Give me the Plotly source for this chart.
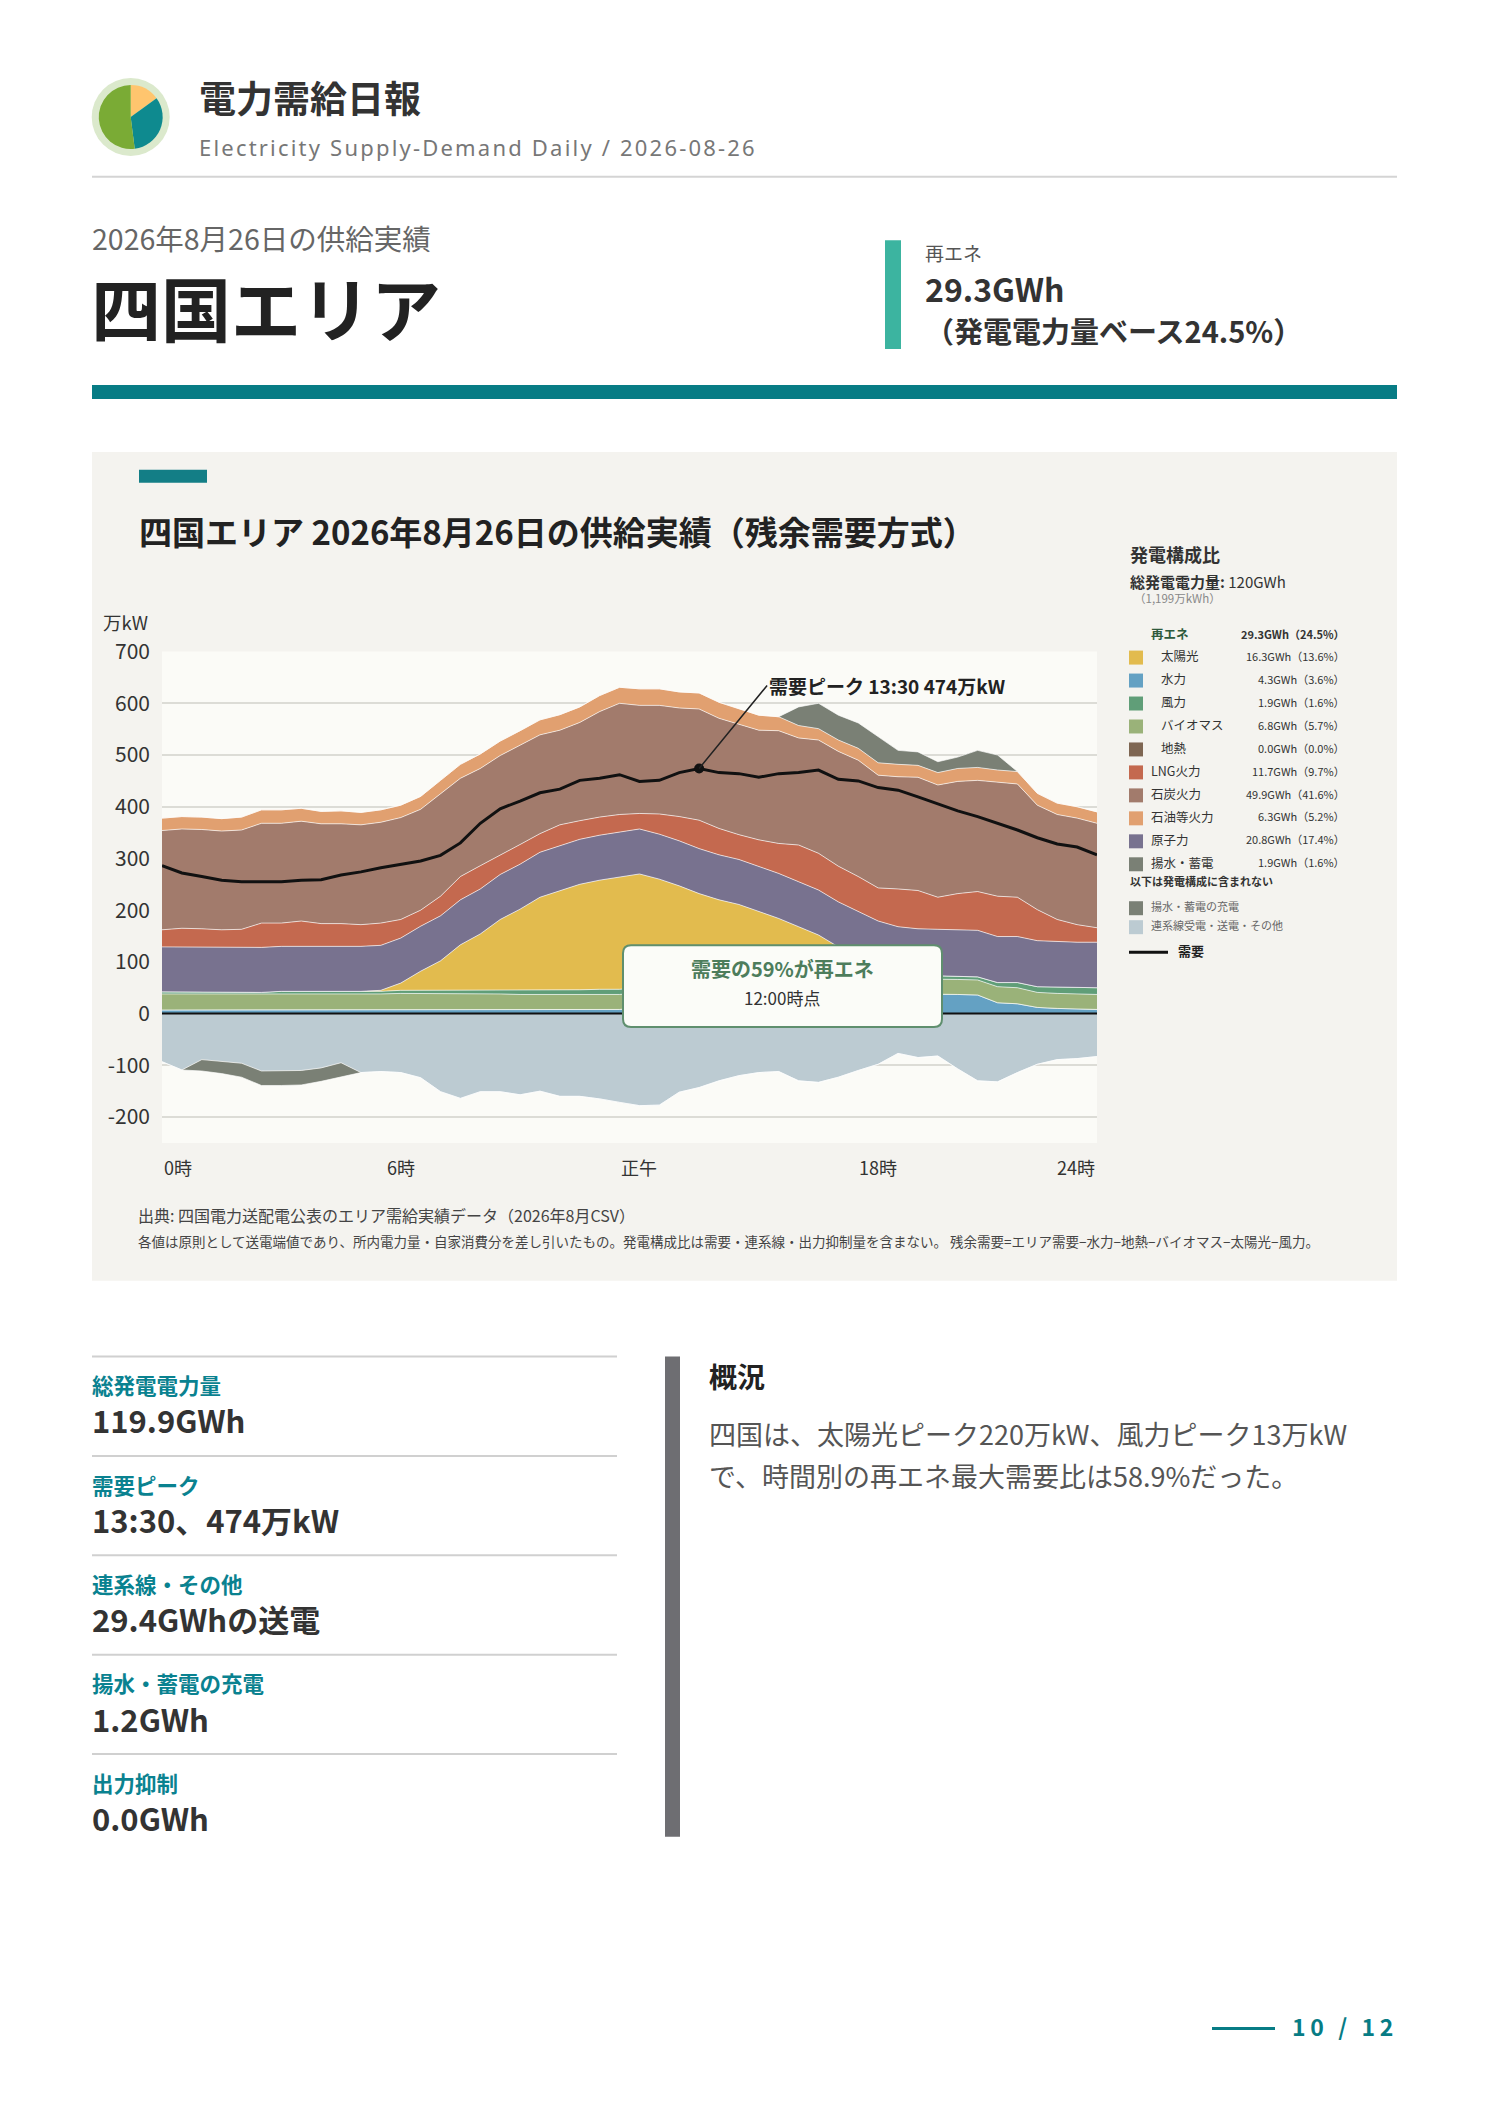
import plotly.graph_objects as go

# --- data (万kW, 30-minute slots) ---------------------------------------
slots = [f"{h:02d}:{m:02d}" for h in range(24) for m in (0, 30)]

hydro = [7, 7, 7, 7, 7, 7, 7, 7, 7, 7, 7, 7,
         8, 8, 8, 8, 8, 8, 8, 8, 8, 8, 8, 8,
         12, 14, 16, 18, 20, 22, 24, 26, 28, 30, 32, 34, 36, 37, 38, 38,
         37, 36, 21, 19, 12, 10, 9, 8]
geothermal = [0] * 48  # 0.0GWh
biomass = [31, 31, 31, 30, 30, 30, 31, 31, 31, 31, 31, 31,
           31, 31, 30, 30, 30, 30, 29, 29, 29, 29, 29, 29,
           28, 28, 28, 28, 28, 28, 28, 28, 28, 28, 28, 29, 29, 29, 29, 29,
           29, 29, 31, 31, 29, 29, 29, 29]
wind = [4, 4, 4, 4, 4, 4, 5, 5, 5, 5, 5, 5,
        6, 6, 7, 7, 7, 8, 8, 8, 9, 9, 10, 10,
        10, 10, 9, 9, 9, 8, 8, 8, 7, 7, 7, 7, 6, 6, 6, 6,
        6, 6, 8, 10, 11, 12, 12, 13]
solar = [0, 0, 0, 0, 0, 0, 0, 0, 0, 0, 0, 2,
         14, 37, 57, 88, 109, 136, 157, 180, 192, 204, 211, 217,
         220, 208, 194, 177, 163, 153, 138, 122, 105, 87, 62, 40, 20, 7, 1, 0,
         0, 0, 0, 0, 0, 0, 0, 0]
nuclear = [87, 87, 87, 87, 87, 87, 87, 87, 87, 87, 87, 87,
           87, 87, 87, 87, 87, 87, 87, 87, 87, 87, 87, 87,
           87, 87, 87, 87, 87, 87, 87, 87, 87, 87, 87, 87, 88, 89, 90, 90,
           90, 90, 89, 89, 89, 88, 88, 88]
lng = [33, 36, 35, 34, 35, 47, 45, 49, 44, 44, 42, 43,
       36, 31, 38, 45, 45, 37, 38, 36, 40, 36, 35, 34,
       30, 39, 47, 55, 51, 48, 51, 58, 71, 71, 69, 68, 64, 73, 74, 62,
       70, 75, 78, 76, 60, 43, 34, 28]
coal = [192, 192, 192, 191, 192, 193, 193, 193, 193, 193, 193, 195,
        197, 195, 198, 190, 188, 193, 192, 191, 183, 190, 204, 215,
        209, 210, 210, 215, 213, 214, 212, 218, 207, 219, 222, 225, 218, 217, 219, 217,
        217, 215, 220, 219, 202, 203, 206, 202]
oil = [24, 24, 24, 24, 25, 26, 26, 25, 24, 25, 24, 24,
       24, 25, 26, 27, 28, 28, 28, 29, 30, 30, 31, 31,
       32, 32, 31, 31, 31, 30, 29, 27, 24, 22, 22, 23, 24, 24, 23, 24,
       25, 25, 24, 24, 23, 22, 22, 22]
pumped = [0, 0, 0, 0, 0, 0, 0, 0, 0, 0, 0, 0,
          0, 0, 0, 0, 0, 0, 0, 0, 0, 0, 0, 0,
          0, 0, 0, 0, 0, 0, 0, 0, 36, 49, 48, 49, 50, 27, 26, 21,
          22, 33, 29, 0, 0, 0, 0, 0]
interconnect = [-93, -109, -89, -92, -96, -111, -111, -110, -105, -95, -114, -112,
                -114, -124, -151, -164, -151, -151, -157, -150, -160, -160, -165, -172,
                -178, -177, -152, -143, -130, -120, -114, -112, -130, -133, -123, -110, -98, -77, -85, -82,
                -107, -130, -132, -114, -98, -89, -87, -83]
charging = [0, 0, -22, -24, -27, -28, -28, -28, -26, -27, 0, 0,
            0, 0, 0, 0, 0, 0, 0, 0, 0, 0, 0, 0,
            0, 0, 0, 0, 0, 0, 0, 0, 0, 0, 0, 0, 0, 0, 0, 0,
            0, 0, 0, 0, 0, 0, 0, 0]
demand = [286, 272, 265, 258, 255, 255, 255, 258, 259, 268, 274, 282,
          289, 295, 306, 330, 368, 396, 411, 427, 434, 451, 455, 462,
          449, 451, 466, 474, 466, 464, 457, 464, 466, 471, 453, 450, 437, 432, 419, 405,
          392, 381, 368, 355, 340, 328, 322, 307]

x_tick_slots = ["00:00", "06:00", "12:00", "18:00", "23:30"]
x_tick_text = ["0時", "6時", "正午", "18時", "24時"]
y_ticks = [-200, -100, 0, 100, 200, 300, 400, 500, 600, 700]

legend_names = ["太陽光", "水力", "風力", "バイオマス", "地熱",
                "LNG火力", "石炭火力", "石油等火力", "原子力", "揚水・蓄電"]
legend_values = ["16.3GWh（13.6%）", "4.3GWh（3.6%）", "1.9GWh（1.6%）", "6.8GWh（5.7%）",
                 "0.0GWh（0.0%）", "11.7GWh（9.7%）", "49.9GWh（41.6%）", "6.3GWh（5.2%）",
                 "20.8GWh（17.4%）", "1.9GWh（1.6%）"]
kpi_labels = ["総発電電力量", "需要ピーク", "連系線・その他", "揚水・蓄電の充電", "出力抑制"]
kpi_values = ["119.9GWh", "13:30、474万kW", "29.4GWhの送電", "1.2GWh", "0.0GWh"]
logo_shares = [15, 33, 52]

C = {
    "太陽光": "#e2bb4e", "水力": "#64a1c3", "風力": "#609e78", "バイオマス": "#9ab279",
    "地熱": "#7e6652", "LNG火力": "#c4694f", "石炭火力": "#a27b6c", "石油等火力": "#e1a070",
    "原子力": "#78728f", "揚水・蓄電": "#7a8075", "充電": "#7a8075", "連系線": "#bccbd2",
}
FONT = "Noto Sans CJK JP"
TEAL = "#077c85"

# page geometry: figure sits inside the 8px body margin; vertical placement
# was calibrated against the rendered page
OFF_X, W, H = 8, 1472, 2089
A_Y, B_Y = 22.5, 0.9933


def fx(x):
    return (x - OFF_X) / W


def fy(y):
    return 1 - ((y - A_Y) / B_Y) / H


def spaced(s, gap="\u200a"):
    return gap.join(s)


fig = go.Figure()

# stacked supply
pos = [("水力", hydro), ("地熱", geothermal), ("バイオマス", biomass), ("風力", wind),
       ("太陽光", solar), ("原子力", nuclear), ("LNG火力", lng), ("石炭火力", coal),
       ("石油等火力", oil), ("揚水・蓄電", pumped)]
for name, vals in pos:
    fig.add_trace(go.Scatter(x=slots, y=vals, name=name, stackgroup="pos", mode="lines",
                             line=dict(width=1, color="rgba(255,255,255,0.65)"),
                             fillcolor=C[name], hoverinfo="skip"))
for name, vals in [("連系線", interconnect), ("充電", charging)]:
    fig.add_trace(go.Scatter(x=slots, y=vals, name=name, stackgroup="neg", mode="lines",
                             line=dict(width=1, color="rgba(255,255,255,0.65)"),
                             fillcolor=C[name], hoverinfo="skip"))

fig.add_trace(go.Scatter(x=slots, y=demand, mode="lines", name="需要",
                         line=dict(color="#111", width=3), hoverinfo="skip"))
peak_i = demand.index(max(demand))
fig.add_trace(go.Scatter(x=[slots[peak_i]], y=[demand[peak_i]], mode="markers",
                         marker=dict(color="#111", size=10), hoverinfo="skip"))

fig.update_layout(
    width=W, height=H, margin=dict(l=0, r=0, t=0, b=0),
    paper_bgcolor="white", plot_bgcolor="rgba(0,0,0,0)", showlegend=False,
    font=dict(family=FONT, color="#333"),
    xaxis=dict(domain=[fx(162), fx(1097)], type="category", range=[0, 47],
               showgrid=False, showticklabels=False, zeroline=False, ticks=""),
    yaxis=dict(domain=[fy(1142), fy(650)], range=[-250, 700], tickvals=y_ticks,
               ticktext=[str(v) for v in y_ticks],
               showgrid=True, gridcolor="#dcdcd6", gridwidth=1.5, zeroline=False,
               tickfont=dict(size=21, color="#333"), ticks="", ticklabelstandoff=11),
)

shapes = []
# header
shapes.append(dict(type="circle", xref="paper", yref="paper", x0=fx(91.7), x1=fx(169.7),
                   y0=fy(153.7), y1=fy(75.7), fillcolor="#dbe9cc", line_width=0, layer="below"))
shapes.append(dict(type="line", xref="paper", yref="paper", x0=fx(92), x1=fx(1397),
                   y0=fy(174.5), y1=fy(174.5), line=dict(color="#d4d4d4", width=2)))
shapes.append(dict(type="rect", xref="paper", yref="paper", x0=fx(885), x1=fx(901),
                   y0=fy(347), y1=fy(238), fillcolor="#3cb4a0", line_width=0))
shapes.append(dict(type="rect", xref="paper", yref="paper", x0=fx(92), x1=fx(1397),
                   y0=fy(397), y1=fy(383), fillcolor=TEAL, line_width=0))
# chart panel and plot background
shapes.append(dict(type="rect", xref="paper", yref="paper", x0=fx(92), x1=fx(1397),
                   y0=fy(1280), y1=fy(450), fillcolor="#f4f3ef", line_width=0, layer="below"))
shapes.append(dict(type="rect", xref="paper", yref="paper", x0=fx(162), x1=fx(1097),
                   y0=fy(1142), y1=fy(650), fillcolor="#fbfbf7", line_width=0, layer="below"))
shapes.append(dict(type="rect", xref="paper", yref="paper", x0=fx(139), x1=fx(207),
                   y0=fy(481), y1=fy(468), fillcolor="#137e86", line_width=0))
# zero line
shapes.append(dict(type="line", xref="paper", yref="y", x0=fx(162), x1=fx(1097),
                   y0=0, y1=0, line=dict(color="#111", width=2)))


def rrect(x0, y0, x1, y1, r):
    return (f"M {fx(x0 + r)},{fy(y0)} L {fx(x1 - r)},{fy(y0)} Q {fx(x1)},{fy(y0)} {fx(x1)},{fy(y0 + r)} "
            f"L {fx(x1)},{fy(y1 - r)} Q {fx(x1)},{fy(y1)} {fx(x1 - r)},{fy(y1)} "
            f"L {fx(x0 + r)},{fy(y1)} Q {fx(x0)},{fy(y1)} {fx(x0)},{fy(y1 - r)} "
            f"L {fx(x0)},{fy(y0 + r)} Q {fx(x0)},{fy(y0)} {fx(x0 + r)},{fy(y0)} Z")


# callout box
shapes.append(dict(type="path", xref="paper", yref="paper", path=rrect(623, 944, 942, 1026, 8),
                   fillcolor="#fbfcf8", line=dict(color="#5f8f6e", width=2)))

# legend swatches
row_y = [656 + 23 * k for k in range(len(legend_names))]
for name, y in zip(legend_names, row_y):
    shapes.append(dict(type="rect", xref="paper", yref="paper", x0=fx(1129), x1=fx(1143),
                       y0=fy(y + 7), y1=fy(y - 7), fillcolor=C[name], line_width=0))
for key, y in [("充電", 907), ("連系線", 926)]:
    shapes.append(dict(type="rect", xref="paper", yref="paper", x0=fx(1129), x1=fx(1143),
                       y0=fy(y + 7), y1=fy(y - 7), fillcolor=C[key], line_width=0))
shapes.append(dict(type="line", xref="paper", yref="paper", x0=fx(1129), x1=fx(1168),
                   y0=fy(951), y1=fy(951), line=dict(color="#111", width=3)))

# lower section
for k in range(5):
    y = 1356 + 99.5 * k
    shapes.append(dict(type="line", xref="paper", yref="paper", x0=fx(92), x1=fx(617),
                       y0=fy(y), y1=fy(y), line=dict(color="#d0d0d0", width=2)))
shapes.append(dict(type="rect", xref="paper", yref="paper", x0=fx(665), x1=fx(680),
                   y0=fy(1837), y1=fy(1356), fillcolor="#6e6e72", line_width=0))
# footer
shapes.append(dict(type="line", xref="paper", yref="paper", x0=fx(1212), x1=fx(1275),
                   y0=fy(2029), y1=fy(2029), line=dict(color=TEAL, width=3)))
fig.update_layout(shapes=shapes)


def txt(x, y, s, size, color="#333", anchor="left", family=FONT):
    # glyphs sit a little low in the annotation box, so lift them slightly
    yy = y - 0.08 * size - 1
    fig.add_annotation(x=fx(x), y=fy(yy), xref="paper", yref="paper", text=s, showarrow=False,
                       xanchor=anchor, yanchor="middle",
                       font=dict(family=family, size=size, color=color))


# header texts
txt(197, 99, "<b>電力需給日報</b>", 37, "#333")
txt(197, 147, spaced("Electricity Supply-Demand Daily / 2026-08-26"), 22, "#777", family="Noto Sans")
txt(90, 239, "2026年8月26日の供給実績", 28.5, "#666")
txt(89, 311, "<b>四国エリア</b>", 70, "#222")
txt(923, 253, "再エネ", 19, "#555")
txt(923, 289, "<b>29.3GWh</b>", 32, "#333")
txt(923, 331, "<b>（発電電力量ベース24.5%）</b>", 29, "#333")

# chart texts
txt(137, 533, "<b>四国エリア 2026年8月26日の供給実績（残余需要方式）</b>", 33, "#222")
txt(101, 623, "万kW", 18.5, "#333")
for s, t in zip(x_tick_slots, x_tick_text):
    anchor = "left" if s == x_tick_slots[0] else ("right" if s == x_tick_slots[-1] else "center")
    fig.add_annotation(x=s, y=fy(1166), xref="x", yref="paper", text=t, showarrow=False,
                       xanchor=anchor, yanchor="middle", font=dict(family=FONT, size=18, color="#333"))

fig.add_annotation(x=slots[peak_i], y=demand[peak_i], xref="x", yref="y",
                   text=f"<b>需要ピーク {slots[peak_i]} {demand[peak_i]}万kW</b>",
                   showarrow=True, arrowhead=0, arrowwidth=1.5, arrowcolor="#222",
                   ax=68, ay=-83, xanchor="left", yanchor="middle",
                   font=dict(family=FONT, size=19, color="#222"))

txt(782.5, 970, "<b>需要の59%が再エネ</b>", 20, "#4d7d5c", anchor="center")
txt(782.5, 999, "12:00時点", 17, "#333", anchor="center")

txt(136, 1217, "出典: 四国電力送配電公表のエリア需給実績データ（2026年8月CSV）", 16, "#444")
txt(136, 1242, "各値は原則として送電端値であり、所内電力量・自家消費分を差し引いたもの。"
               "発電構成比は需要・連系線・出力抑制量を含まない。 "
               "残余需要=エリア需要−水力−地熱−バイオマス−太陽光−風力。", 13.5, "#444")

# legend texts
txt(1128, 555, "<b>発電構成比</b>", 18, "#333")
txt(1128, 582, "<b>総発電電力量:</b> 120GWh", 15, "#333")
txt(1132, 598, "（1,199万kWh）", 11.5, "#888")
txt(1149, 634, "<b>再エネ</b>", 12.5, "#2e5a3c")
txt(1347, 634, "<b>29.3GWh（24.5%）</b>", 11, "#333", anchor="right")
for i, (name, val, y) in enumerate(zip(legend_names, legend_values, row_y)):
    txt(1159 if i < 5 else 1149, y, name, 12.5, "#333")
    txt(1347, y, val, 11, "#333", anchor="right")
txt(1128, 882, "<b>以下は発電構成に含まれない</b>", 11, "#333")
txt(1149, 907, "揚水・蓄電の充電", 11, "#666")
txt(1149, 926, "連系線受電・送電・その他", 11, "#666")
txt(1176, 951, "<b>需要</b>", 13, "#222")

# KPI column
for k, (lab, val) in enumerate(zip(kpi_labels, kpi_values)):
    y = 1356 + 99.5 * k
    txt(90, y + 31, f"<b>{lab}</b>", 21.5, "#0a8290")
    txt(90, y + 67, f"<b>{val}</b>", 31, "#333")

# summary
txt(707, 1379, "<b>概況</b>", 28, "#222")
txt(707, 1436, "四国は、太陽光ピーク220万kW、風力ピーク13万kW", 27, "#555")
txt(707, 1478, "で、時間別の再エネ最大需要比は58.9%だった。", 27, "#555")

# footer
txt(1395, 2029, "<b>" + spaced("10 / 12", "\u2009") + "</b>", 23, TEAL, anchor="right")

# logo pie
fig.add_trace(go.Pie(values=logo_shares, sort=False, direction="clockwise", rotation=0,
                     marker=dict(colors=["#ffc56e", "#0e8a8f", "#7aab35"], line=dict(width=0)),
                     textinfo="none", hoverinfo="skip", showlegend=False,
                     domain=dict(x=[fx(98.7), fx(162.7)], y=[fy(146.7), fy(82.7)])))

fig.write_html("out.html")
